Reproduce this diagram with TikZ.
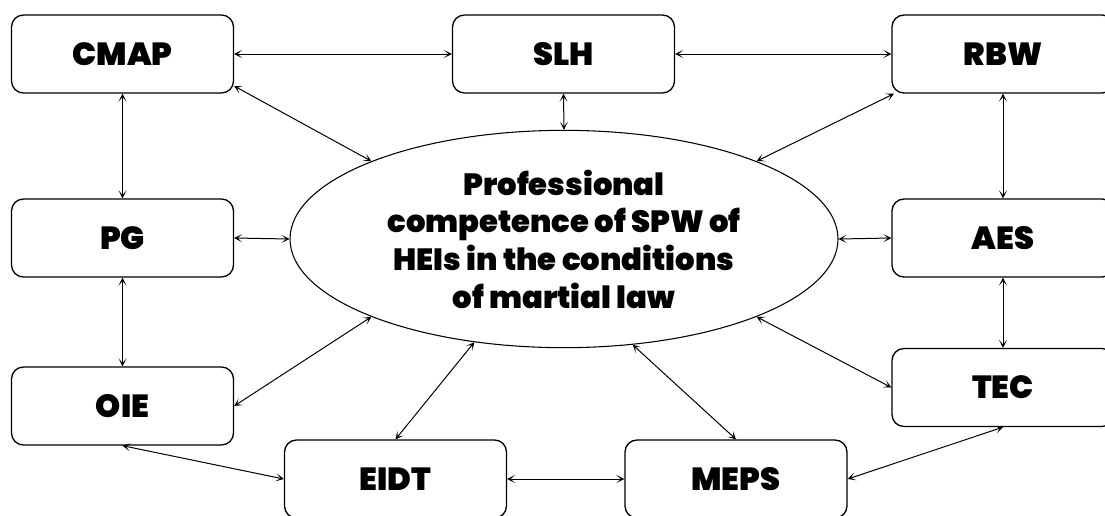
\documentclass[tikz,border=0pt]{standalone}
\usepackage{fontspec}
\setmainfont{Poppins}[BoldFont={* Black}]
\usetikzlibrary{arrows.meta,shapes.geometric,calc}
\tikzset{
  box/.style={draw, line width=1pt, rounded corners=9pt, minimum width=166.5pt, minimum height=58.5pt, inner sep=0pt, font=\fontsize{24}{28}\selectfont\bfseries},
  core/.style={draw, ellipse, line width=0.8pt, minimum width=411pt, minimum height=163pt, inner sep=0pt, align=center, font=\fontsize{23}{28.3}\selectfont\bfseries},
  link/.style={line width=0.75pt, {Stealth[length=6pt,width=6pt,inset=3.5pt]}-{Stealth[length=6pt,width=6pt,inset=3.5pt]}}
}
\begin{document}
\begin{tikzpicture}[x=0.75pt,y=-0.75pt]
\useasboundingbox (0,0) rectangle (1105,515);
\fill[white] (0,0) rectangle (1105,515);
\node[core] (ell) at (564,239) {Professional\\competence of SPW of\\HEIs in the conditions\\of martial law};
\node[box] (cmap) at (122.5,54) {CMAP};
\node[box] (slh) at (563.5,54) {SLH};
\node[box] (rbw) at (1003,54) {RBW};
\node[box] (pg) at (122.5,238) {PG};
\node[box] (aes) at (1003,238) {AES};
\node[box] (oie) at (122.5,406) {OIE};
\node[box] (tec) at (1003,387.5) {TEC};
\node[box] (eidt) at (395.5,479) {EIDT};
\node[box] (meps) at (736,479) {MEPS};
\draw[link] (cmap.east) -- (slh.west);
\draw[link] (slh.east) -- (rbw.west);
\draw[link] (cmap.-16.7) -- (ell.158.7);
\draw[link] (slh.south) -- (ell.90);
\draw[link] (rbw.200.2) -- (ell.22);
\draw[link] (cmap.south) -- (pg.north);
\draw[link] (rbw.south) -- (aes.north);
\draw[link] (pg.east) -- (ell.180);
\draw[link] (aes.west) -- (ell.0);
\draw[link] (pg.south) -- (oie.north);
\draw[link] (aes.south) -- (tec.north);
\draw[link] (oie.east) -- (ell.202.1);
\draw[link] (tec.west) -- (ell.-22);
\draw[link] (eidt.north) -- (ell.229.8);
\draw[link] (meps.north) -- (ell.303.7);
\draw[link] (oie.south) -- (eidt.west);
\draw[link] (eidt.east) -- (meps.west);
\draw[link] (meps.east) -- (tec.south);
\end{tikzpicture}
\end{document}
